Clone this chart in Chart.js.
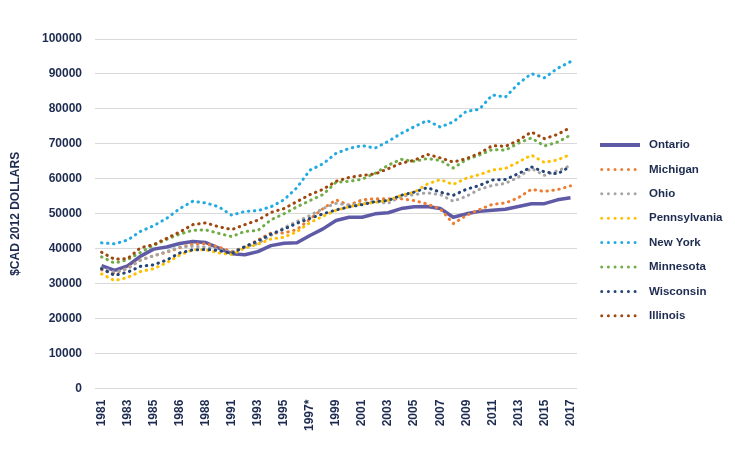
<!DOCTYPE html>
<html>
<head>
<meta charset="utf-8">
<script src="https://cdn.jsdelivr.net/npm/chart.js@4.4.1/dist/chart.umd.min.js"></script>
<style>
  html, body { margin: 0; padding: 0; background: #ffffff; }
  #wrap { width: 735px; height: 460px; }
</style>
</head>
<body>
<div id="wrap"><canvas id="grafica" width="735" height="460"></canvas></div>
<script>
// Años (solo se muestran los de índice par, como en el original)
const years = ['1981', '1982', '1983', '1984', '1985', '1985', '1986', '1987', '1988', '1990',
  '1991', '1992', '1993', '1994', '1995', '1996', '1997*', '1998', '1999', '2000',
  '2001', '2002', '2003', '2004', '2005', '2006', '2007', '2008', '2009', '2010',
  '2011', '2012', '2013', '2014', '2015', '2016', '2017'];

const ontario = [35200, 33800, 35100, 37900, 39900, 40500, 41500, 42100, 41800, 40200,
  38600, 38300, 39200, 40900, 41600, 41700, 43800, 45700, 48100, 49000,
  49000, 50000, 50300, 51500, 52000, 52100, 51500, 49000, 50000, 50700,
  51000, 51300, 52100, 52900, 52900, 54000, 54600];
const michigan = [34000, 33000, 34500, 36800, 38000, 39000, 40300, 41300, 41500, 40500,
  39200, 40500, 42500, 44500, 44500, 45500, 48500, 51500, 54000, 52500,
  54000, 54300, 54300, 54300, 53800, 52800, 51400, 47200, 49500, 51200,
  52700, 53100, 54600, 57000, 56400, 56900, 58000];
const ohio = [34500, 33300, 34300, 36800, 38000, 39200, 40500, 40700, 40500, 39800,
  39000, 40500, 41500, 43800, 46000, 47800, 49500, 51500, 53000, 52500,
  53000, 53500, 53000, 55000, 55500, 56000, 55500, 53600, 55000, 57000,
  58100, 58700, 60500, 63000, 61000, 62300, 63800];
const pennsylvania = [32800, 30900, 31800, 33500, 34300, 36000, 38200, 39700, 39700, 38800,
  38400, 40200, 41300, 42800, 43300, 44900, 47500, 49300, 51000, 52000,
  52800, 53300, 53800, 55300, 56200, 58500, 59800, 58400, 60200, 61200,
  62500, 63000, 64800, 66800, 64700, 65400, 67000];
const newYork = [41700, 41400, 42500, 45000, 46600, 48700, 51500, 53600, 53100, 52000,
  49600, 50700, 50900, 52000, 54000, 57500, 62500, 64300, 67300, 68700,
  69500, 68800, 70700, 73000, 74900, 76700, 74800, 76300, 79300, 79900,
  84000, 83400, 87200, 90100, 88900, 91600, 93500];
const minnesota = [37700, 35900, 36900, 39000, 41000, 42700, 44200, 45300, 45400, 44400,
  43500, 45000, 45200, 48300, 50000, 52000, 53800, 55500, 59000, 59300,
  59900, 61600, 63900, 65600, 65000, 65800, 65300, 63100, 65500, 66800,
  68400, 68200, 70200, 71700, 69400, 70500, 72500];
const wisconsin = [34300, 32400, 33300, 35000, 35400, 36800, 38800, 39700, 39800, 39500,
  38700, 40600, 42200, 44200, 45600, 47300, 48700, 50000, 51100, 52000,
  52600, 53500, 53800, 55300, 56200, 57500, 56200, 55300, 57000, 58100,
  59700, 59800, 61500, 63400, 62000, 61400, 63600];
const illinois = [39000, 37000, 37200, 40300, 41200, 43000, 44800, 46900, 47400, 46300,
  45500, 46900, 48200, 50400, 51500, 53500, 55500, 57000, 59300, 60400,
  61000, 61400, 62900, 64500, 65300, 67000, 66000, 64800, 65800, 67300,
  69500, 69300, 71000, 73400, 71500, 72700, 74700];

const yTicks = [0, 10000, 20000, 30000, 40000, 50000, 60000, 70000, 80000, 90000, 100000];

const series = [
  { label: 'Ontario', data: ontario, color: '#5f5aa5' },
  { label: 'Michigan', data: michigan, color: '#ed7d31' },
  { label: 'Ohio', data: ohio, color: '#a5a5a5' },
  { label: 'Pennsylvania', data: pennsylvania, color: '#ffc000' },
  { label: 'New York', data: newYork, color: '#22aae2' },
  { label: 'Minnesota', data: minnesota, color: '#70ad47' },
  { label: 'Wisconsin', data: wisconsin, color: '#264478' },
  { label: 'Illinois', data: illinois, color: '#9e480e' }
];

const textColor = '#1c2b4f';
const fontFamily = "'Liberation Sans', Arial, sans-serif";

const datasets = series.map((s, i) => {
  const solid = i === 0;
  return {
    label: s.label,
    data: s.data,
    borderColor: s.color,
    backgroundColor: s.color,
    borderWidth: solid ? 3.5 : 3,
    borderDash: solid ? [] : [0.5, 5.5],
    borderCapStyle: solid ? 'butt' : 'round',
    borderJoinStyle: 'round',
    pointRadius: 0,
    pointHoverRadius: 0,
    tension: 0,
    fill: false,
    // como en Excel: la primera serie queda debajo
    order: series.length - i
  };
});

// Leyenda a la derecha, dibujada a mano (línea continua / punteada + texto)
const leyendaDerecha = {
  id: 'leyendaDerecha',
  afterDraw(chart) {
    const { ctx, chartArea } = chart;
    const x0 = chartArea.right + 23;
    const y0 = chartArea.top + 106;
    const paso = 24.4;
    ctx.save();
    ctx.font = `bold 11.5px ${fontFamily}`;
    ctx.textBaseline = 'middle';
    ctx.textAlign = 'left';
    chart.data.datasets.forEach((ds, i) => {
      const y = y0 + i * paso;
      ctx.beginPath();
      ctx.strokeStyle = ds.borderColor;
      if (ds.borderDash.length) {
        ctx.lineWidth = 3;
        ctx.lineCap = 'round';
        ctx.setLineDash([0.01, 6.67]);
        ctx.moveTo(x0 + 1.7, y);
        ctx.lineTo(x0 + 36, y);
      } else {
        ctx.lineWidth = 4;
        ctx.lineCap = 'butt';
        ctx.setLineDash([]);
        ctx.moveTo(x0, y);
        ctx.lineTo(x0 + 40, y);
      }
      ctx.stroke();
      ctx.fillStyle = textColor;
      ctx.fillText(ds.label, x0 + 49, y);
    });
    ctx.restore();
  }
};

new Chart(document.getElementById('grafica'), {
  type: 'line',
  data: { labels: years, datasets: datasets },
  options: {
    responsive: false,
    animation: false,
    layout: { padding: { top: 39, right: 158, bottom: 18, left: 0 } },
    plugins: {
      tooltip: { enabled: false },
      legend: { display: false }
    },
    scales: {
      x: {
        offset: true,
        grid: { display: false, drawTicks: false },
        border: { display: false },
        ticks: {
          autoSkip: false,
          minRotation: 90,
          maxRotation: 90,
          padding: 11,
          color: textColor,
          font: { family: fontFamily, size: 12, weight: 'bold' },
          callback: (v, i) => (i % 2 === 0 ? years[i] : '')
        }
      },
      y: {
        min: 0,
        max: 100000,
        afterBuildTicks: (scale) => { scale.ticks = yTicks.map(v => ({ value: v })); },
        grid: { color: '#d9d9d9', lineWidth: 1, drawTicks: false },
        border: { display: false },
        ticks: {
          padding: 13,
          color: textColor,
          font: { family: fontFamily, size: 12, weight: 'bold' },
          callback: (v) => String(v)
        },
        title: {
          display: true,
          text: '$CAD 2012 DOLLARS',
          color: textColor,
          font: { family: fontFamily, size: 12, weight: 'bold' },
          padding: { top: 8, bottom: 6.6 }
        }
      }
    }
  },
  plugins: [leyendaDerecha]
});
</script>
</body>
</html>
